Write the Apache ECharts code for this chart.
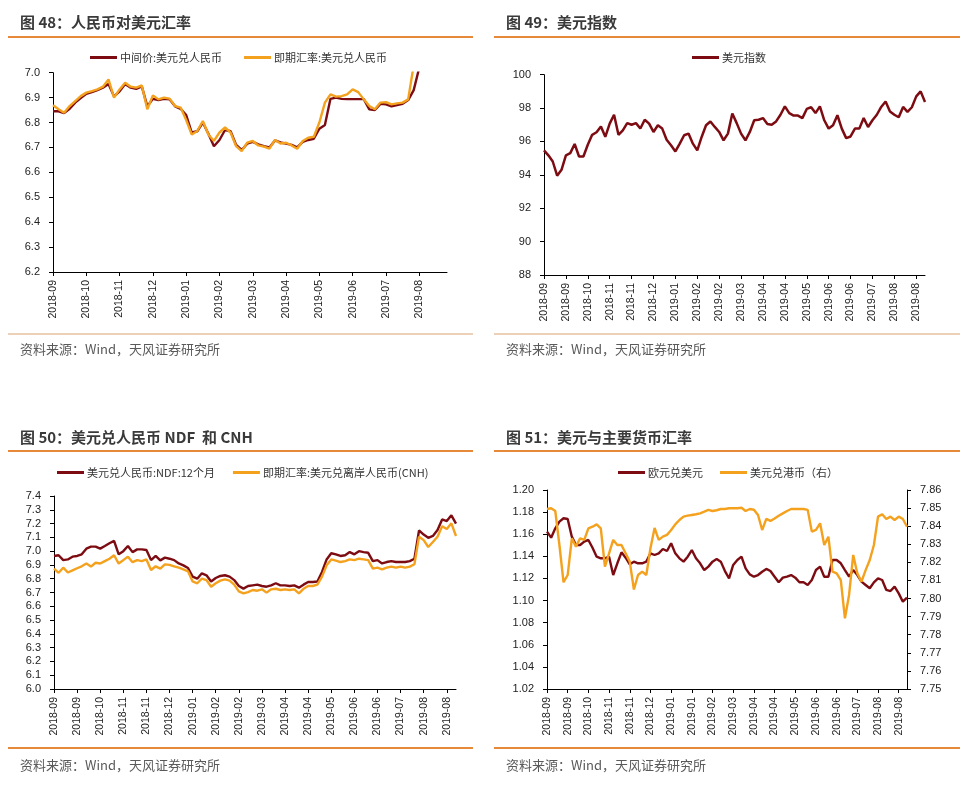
<!DOCTYPE html>
<html>
<head>
<meta charset="utf-8">
<script src="https://cdn.jsdelivr.net/npm/echarts/dist/echarts.min.js"></script>
<style>html,body{margin:0;padding:0;background:#fff}#c{width:977px;height:788px}</style>
</head>
<body>
<div id="c"></div>
<script>
// ---------- Panel 48: 人民币对美元汇率 ----------
const p48Ticks = ['2018-09','2018-10','2018-11','2018-12','2019-01','2019-02','2019-03','2019-04','2019-05','2019-06','2019-07','2019-08'];
const p48Mid = [6.845,6.845,6.838,6.855,6.88,6.898,6.915,6.922,6.93,6.94,
  6.955,6.905,6.925,6.955,6.94,6.935,6.945,6.865,6.895,6.89,
  6.895,6.893,6.865,6.855,6.83,6.76,6.765,6.80,6.755,6.705,
  6.73,6.77,6.765,6.71,6.69,6.715,6.722,6.712,6.705,6.70,
  6.728,6.72,6.715,6.71,6.70,6.722,6.73,6.735,6.775,6.79,
  6.895,6.90,6.895,6.894,6.894,6.894,6.894,6.853,6.85,6.875,
  6.873,6.865,6.87,6.875,6.89,6.93,7.02];
const p48Spot = [6.869,6.853,6.839,6.866,6.886,6.906,6.92,6.926,6.933,6.944,
  6.973,6.90,6.933,6.96,6.944,6.94,6.949,6.853,6.909,6.893,
  6.90,6.896,6.866,6.86,6.81,6.752,6.766,6.806,6.752,6.726,
  6.76,6.78,6.76,6.705,6.685,6.719,6.726,6.708,6.703,6.695,
  6.73,6.716,6.719,6.708,6.695,6.726,6.739,6.743,6.80,6.88,
  6.913,6.904,6.906,6.913,6.933,6.922,6.893,6.866,6.853,6.88,
  6.882,6.873,6.877,6.88,6.893,7.03,7.05];

// ---------- Panel 49: 美元指数 ----------
const p49Ticks = ['2018-09','2018-09','2018-10','2018-11','2018-11','2018-12','2019-01','2019-02','2019-02','2019-03','2019-04','2019-04','2019-05','2019-06','2019-06','2019-07','2019-08','2019-08'];
const p49Dxy = [95.47,95.17,94.8,93.95,94.3,95.17,95.3,95.85,95.1,95.1,
  95.8,96.4,96.55,96.9,96.28,97.07,97.6,96.4,96.67,97.1,
  97.0,97.1,96.78,97.3,97.07,96.57,96.97,96.77,96.1,95.77,
  95.4,95.87,96.37,96.47,95.87,95.47,96.27,96.97,97.2,96.87,
  96.57,96.07,96.47,97.67,97.1,96.47,96.07,96.57,97.27,97.3,
  97.4,97.05,97.0,97.2,97.6,98.1,97.7,97.55,97.55,97.4,
  97.95,98.05,97.7,98.1,97.27,96.77,96.97,97.57,96.77,96.2,
  96.3,96.77,96.77,97.4,96.87,97.27,97.6,98.07,98.4,97.8,
  97.6,97.45,98.07,97.77,98.05,98.7,99.0,98.37];

// ---------- Panel 50: 美元兑人民币 NDF 和 CNH ----------
const p50Ticks = ['2018-09','2018-09','2018-10','2018-11','2018-11','2018-12','2019-01','2019-02','2019-02','2019-03','2019-04','2019-04','2019-05','2019-06','2019-06','2019-07','2019-08','2019-08'];
const p50Ndf = [6.965,6.97,6.935,6.94,6.96,6.965,6.977,7.018,7.033,7.033,
  7.018,7.037,7.057,7.074,6.977,7.0,7.037,6.993,7.013,7.013,
  7.008,6.935,6.965,6.933,6.953,6.945,6.935,6.911,6.897,6.878,
  6.815,6.80,6.839,6.825,6.78,6.805,6.82,6.825,6.815,6.79,
  6.747,6.728,6.747,6.752,6.757,6.747,6.742,6.752,6.767,6.752,
  6.752,6.747,6.752,6.735,6.757,6.776,6.776,6.78,6.849,6.94,
  6.985,6.977,6.965,6.97,6.993,6.977,7.0,6.993,6.988,6.928,
  6.935,6.911,6.921,6.928,6.921,6.921,6.921,6.928,6.945,7.15,
  7.12,7.097,7.11,7.153,7.23,7.218,7.26,7.2];
const p50Cnh = [6.873,6.843,6.88,6.845,6.86,6.876,6.89,6.91,6.888,6.916,
  6.91,6.928,6.945,6.97,6.91,6.935,6.96,6.92,6.935,6.928,
  6.94,6.863,6.89,6.873,6.904,6.90,6.89,6.88,6.868,6.854,
  6.78,6.767,6.80,6.79,6.742,6.767,6.786,6.795,6.786,6.757,
  6.708,6.694,6.703,6.718,6.713,6.723,6.699,6.723,6.727,6.718,
  6.723,6.718,6.723,6.694,6.727,6.747,6.747,6.757,6.815,6.897,
  6.94,6.931,6.921,6.928,6.94,6.935,6.945,6.94,6.935,6.873,
  6.88,6.868,6.88,6.888,6.88,6.888,6.88,6.888,6.905,7.105,
  7.08,7.03,7.066,7.105,7.18,7.16,7.202,7.11];

// ---------- Panel 51: 美元与主要货币汇率 ----------
const p51Ticks = ['2018-09','2018-09','2018-10','2018-11','2018-11','2018-12','2019-01','2019-01','2019-02','2019-03','2019-04','2019-04','2019-05','2019-06','2019-06','2019-07','2019-08','2019-08'];
const p51Eur = [1.1623,1.1569,1.1653,1.1714,1.1744,1.1738,1.1578,1.1503,1.1503,1.1533,
  1.1548,1.1478,1.1397,1.1382,1.1382,1.1397,1.1231,1.1337,1.1436,1.1388,
  1.1328,1.1352,1.1337,1.1337,1.1352,1.1427,1.1412,1.1427,1.1466,1.1448,
  1.1518,1.1427,1.1382,1.1352,1.1397,1.1457,1.1382,1.1337,1.1276,1.1307,
  1.1352,1.1376,1.1352,1.1267,1.1201,1.1322,1.1367,1.1397,1.1291,1.1237,
  1.1216,1.1231,1.1261,1.1286,1.1267,1.1216,1.1165,1.1207,1.1216,1.1231,
  1.1207,1.1165,1.1165,1.1141,1.1186,1.1276,1.1307,1.1216,1.1216,1.1367,
  1.1367,1.1337,1.1276,1.1216,1.1276,1.1231,1.1171,1.1141,1.1111,1.1165,
  1.1201,1.1186,1.1096,1.1086,1.1126,1.1065,1.099,1.1026];
const p51Hkd = [7.8495,7.8499,7.8484,7.8296,7.809,7.813,7.8333,7.8287,7.8333,7.8324,
  7.8388,7.8397,7.841,7.8388,7.8176,7.825,7.8324,7.8296,7.8296,7.825,
  7.8204,7.805,7.813,7.8149,7.813,7.8278,7.839,7.8324,7.8342,7.8352,
  7.8379,7.841,7.8434,7.8453,7.8458,7.8462,7.8466,7.8471,7.848,7.849,
  7.8484,7.8488,7.8495,7.8495,7.8499,7.8499,7.8499,7.8502,7.8484,7.8495,
  7.8491,7.8462,7.8379,7.844,7.8429,7.8443,7.8458,7.8471,7.8484,7.8495,
  7.8495,7.8495,7.8495,7.849,7.837,7.8379,7.8416,7.8296,7.8342,7.8149,
  7.8139,7.8102,7.7891,7.802,7.8241,7.8139,7.8093,7.8157,7.8213,7.8296,
  7.8453,7.8466,7.844,7.8453,7.8434,7.8453,7.844,7.8397];

const MAROON = '#7D0C12';
const ORANGE = '#F4A11E';
const RULE = '#E68A3A';
const AXF = '"Liberation Sans", Arial, sans-serif';
const CJK = '"Noto Sans CJK SC", sans-serif';

function catAxis(gridIndex, n, k, labels) {
  const show = (i) => i % k === 0 && (i / k) < labels.length;
  return {
    type: 'category', gridIndex: gridIndex, boundaryGap: false,
    data: Array.from({length: n}, (_, i) => String(i)),
    axisLine: {lineStyle: {color: '#000', width: 1}},
    axisTick: {length: 4, interval: show, lineStyle: {color: '#000'}},
    axisLabel: {interval: show, rotate: 90, margin: 8, fontSize: 10.5, color: '#222', fontFamily: AXF,
      formatter: (v, i) => labels[i / k] || ''},
    splitLine: {show: false}
  };
}
function valAxis(gridIndex, min, max, interval, dec, pos) {
  return {
    type: 'value', gridIndex: gridIndex, min: min, max: max, interval: interval, position: pos || 'left',
    axisLine: {show: true, lineStyle: {color: '#000', width: 1}},
    axisTick: {show: true, length: 4, lineStyle: {color: '#000'}},
    axisLabel: {margin: 13, fontSize: 11, color: '#222', fontFamily: AXF, formatter: (v) => v.toFixed(dec)},
    splitLine: {show: false}
  };
}
function lineSeries(name, xi, yi, data, color, w) {
  return {name: name, type: 'line', xAxisIndex: xi, yAxisIndex: yi, data: data,
    showSymbol: false, symbol: 'none', clip: true, lineStyle: {color: color, width: w || 2.4},
    itemStyle: {color: color}, emphasis: {disabled: true}};
}
function legendAt(left, top, names, gap) {
  return {left: left, top: top, data: names, icon: 'rect', itemWidth: 27, itemHeight: 3,
    itemGap: gap, padding: 0, selectedMode: false,
    textStyle: {fontSize: 11, color: '#333', fontFamily: CJK, padding: [0, 0, 0, -2]}};
}
function title(x, y, t) {
  return {type: 'text', x: x, y: y, style: {text: t, font: 'bold 15px ' + CJK, fill: '#3a3a3a', verticalAlign: 'middle'}};
}
function source(x, y) {
  return {type: 'text', x: x, y: y, style: {text: '资料来源：Wind，天风证券研究所', font: '13px ' + CJK, fill: '#5a5a5a', verticalAlign: 'middle'}};
}
function rule(x1, x2, y, w, c) {
  return {type: 'line', shape: {x1: x1, y1: y, x2: x2, y2: y}, style: {stroke: c, lineWidth: w}};
}

const names48 = ['中间价:美元兑人民币', '即期汇率:美元兑人民币'];
const names49 = ['美元指数'];
const names50 = ['美元兑人民币:NDF:12个月', '即期汇率:美元兑离岸人民币(CNH)'];
const names51 = ['欧元兑美元', '美元兑港币（右）'];

const option = {
  animation: false,
  backgroundColor: '#fff',
  grid: [
    {left: 53, top: 72.7, width: 394, height: 199.3},
    {left: 544, top: 74.7, width: 381, height: 200.3},
    {left: 54, top: 496, width: 402, height: 193},
    {left: 547, top: 490, width: 360, height: 199}
  ],
  xAxis: [
    catAxis(0, 72, 6, p48Ticks),
    catAxis(1, 88, 5, p49Ticks),
    catAxis(2, 88, 5, p50Ticks),
    catAxis(3, 88, 5, p51Ticks)
  ],
  yAxis: [
    valAxis(0, 6.2, 7.0, 0.1, 1),
    valAxis(1, 88, 100, 2, 0),
    valAxis(2, 6.0, 7.4, 0.1, 1),
    valAxis(3, 1.02, 1.20, 0.02, 2),
    valAxis(3, 7.75, 7.86, 0.01, 2, 'right')
  ],
  legend: [
    legendAt(90, 52, names48, 22),
    legendAt(692, 52, names49, 20),
    legendAt(57, 467, names50, 18),
    legendAt(618, 467, names51, 17)
  ],
  series: [
    lineSeries(names48[0], 0, 0, p48Mid, MAROON),
    lineSeries(names48[1], 0, 0, p48Spot, ORANGE),
    lineSeries(names49[0], 1, 1, p49Dxy, MAROON, 2.5),
    lineSeries(names50[0], 2, 2, p50Ndf, MAROON),
    lineSeries(names50[1], 2, 2, p50Cnh, ORANGE),
    lineSeries(names51[0], 3, 3, p51Eur, MAROON),
    lineSeries(names51[1], 3, 4, p51Hkd, ORANGE)
  ],
  graphic: [
    title(20, 22, '图 48：人民币对美元汇率'),
    title(506, 22, '图 49：美元指数'),
    title(20, 437, '图 50：美元兑人民币 NDF  和 CNH'),
    title(506, 437, '图 51：美元与主要货币汇率'),
    rule(8, 473, 37, 2, RULE),
    rule(494, 960, 37, 2, RULE),
    rule(8, 473, 451, 2, RULE),
    rule(494, 960, 451, 2, RULE),
    rule(8, 473, 334, 1, '#D9A273'),
    rule(494, 960, 334, 1, '#D9A273'),
    rule(8, 473, 748, 2, RULE),
    rule(494, 960, 748, 2, RULE),
    source(20, 349),
    source(506, 349),
    source(20, 765),
    source(506, 765)
  ]
};
const chart = echarts.init(document.getElementById('c'), null, {renderer: 'canvas', width: 977, height: 788});
chart.setOption(option);
</script>
</body>
</html>
